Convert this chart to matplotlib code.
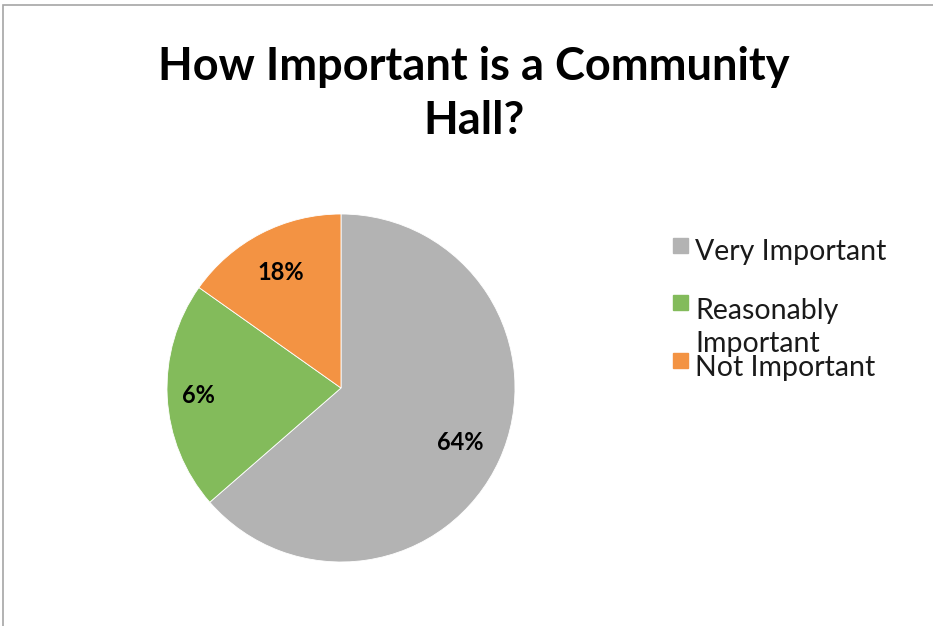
import matplotlib.pyplot as plt
from matplotlib.patches import Rectangle
import numpy as np

categories = ['Very Important', 'Reasonably\nImportant', 'Not Important']
# slice sizes as drawn
sizes = [63.6, 21.2, 15.2]
# labels as printed on the chart
pct_labels = ['64%', '6%', '18%']
colors = ['#B3B3B3', '#83BB5B', '#F39343']

fig = plt.figure(figsize=(9.33, 6.26), dpi=100)
W, H = 933, 626

# outer frame (cropped chart border)
fig.add_artist(Rectangle((3 / W, -0.1), 1.2, (H - 5) / H + 0.1, transform=fig.transFigure,
                         fill=False, edgecolor='#A6A6A6', linewidth=1.2))

# va='baseline' on multi-line text aligns the last line
fig.text(474 / W, 1 - 134 / H, 'How Important is a Community\nHall?', ha='center', va='baseline',
         fontsize=32.5, fontweight='bold', family='Lato', linespacing=1.35)

cx, cy, r = 341, 626 - 388, 174
ax = fig.add_axes([(cx - r) / W, (cy - r) / H, 2 * r / W, 2 * r / H])
wedges, _ = ax.pie(sizes, colors=colors, startangle=90, counterclock=False,
                   wedgeprops=dict(linewidth=0.6, edgecolor='white'))
ax.set_xlim(-1, 1)
ax.set_ylim(-1, 1)

dist = [0.75, 0.82, 0.75]
for w, lab, d in zip(wedges, pct_labels, dist):
    a = np.deg2rad((w.theta1 + w.theta2) / 2)
    ax.text(d * np.cos(a), d * np.sin(a), lab, ha='center', va='center',
            fontsize=17, fontweight='bold', family='Lato')

# legend drawn by hand so the wrapped label overlaps like the original
box_top = [238, 295, 353]
text_base = [260, 352, 376]
for c, lab, yb, yt in zip(colors, categories, box_top, text_base):
    fig.add_artist(Rectangle((673 / W, 1 - (yb + 15) / H), 15 / W, 15 / H,
                             transform=fig.transFigure, color=c))
    fig.text(695 / W, 1 - yt / H, lab, ha='left', va='baseline',
             fontsize=20.5, family='Lato', color='#1a1a1a', linespacing=1.35)

fig.savefig('out.png', dpi=100)
